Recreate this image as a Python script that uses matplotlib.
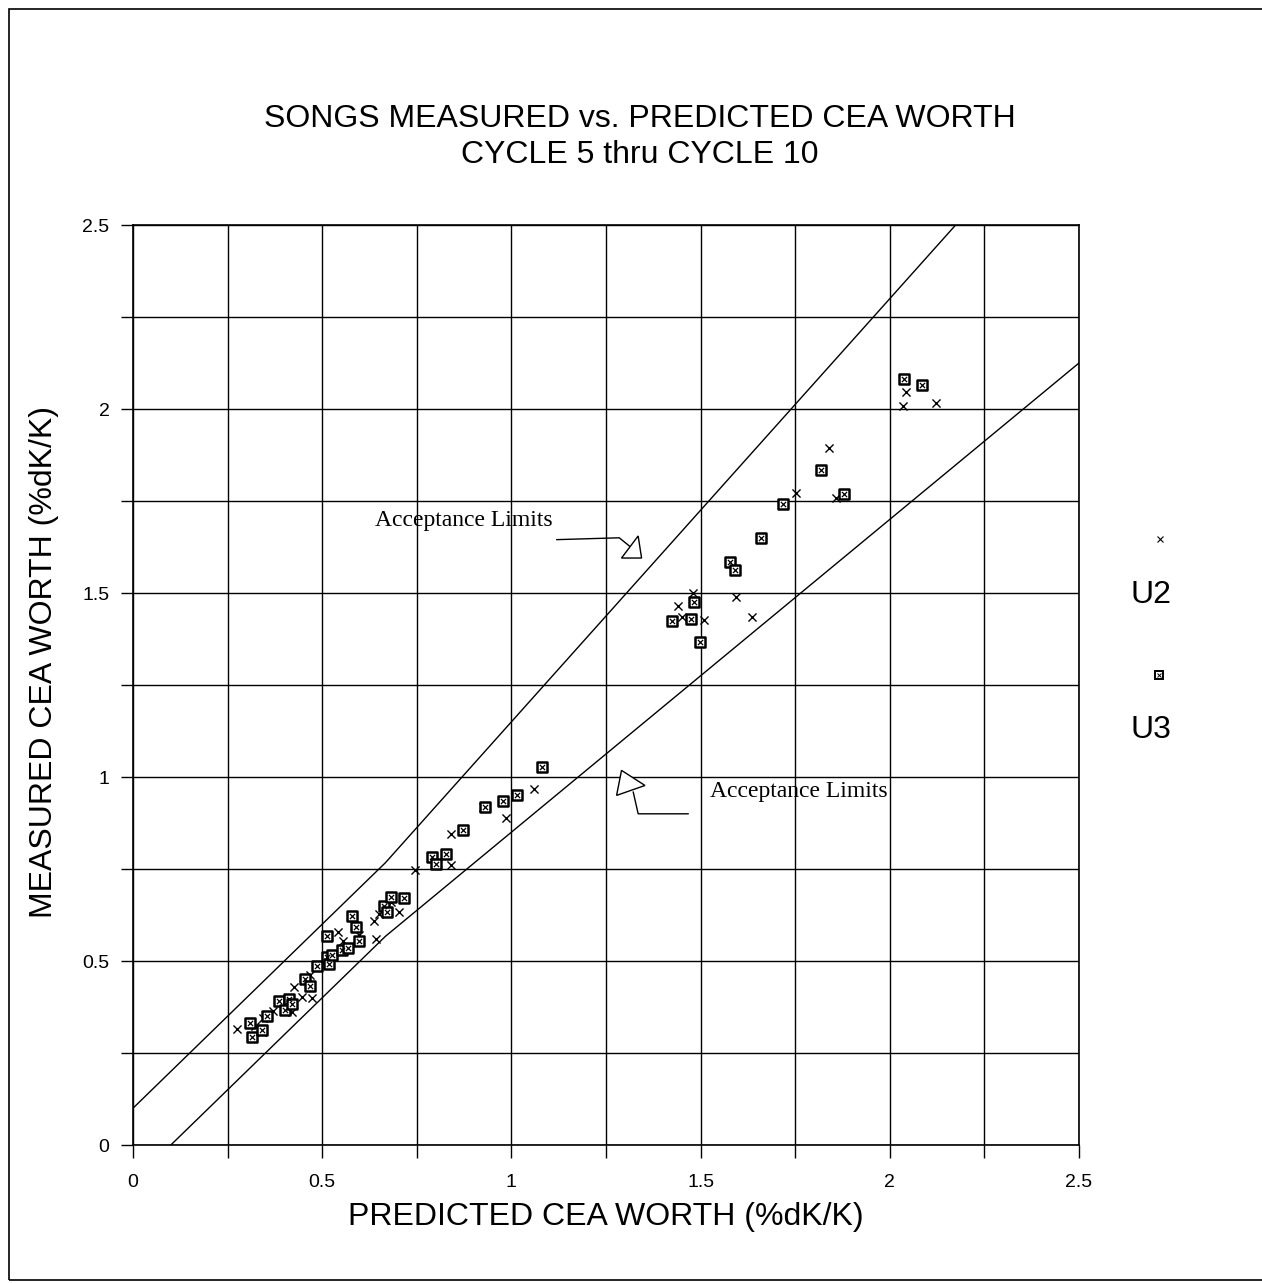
import matplotlib
matplotlib.use("Agg")
import matplotlib.pyplot as plt
from matplotlib.patches import Polygon, Rectangle
from matplotlib.lines import Line2D

plt.rcParams['font.family'] = ['Liberation Sans', 'DejaVu Sans']

# U2 data (predicted vs measured CEA worth, %dK/K)
pred_u2 = [0.276, 0.323, 0.341, 0.343, 0.371, 0.420, 0.426, 0.446, 0.468, 0.474,
           0.543, 0.555, 0.596, 0.637, 0.642, 0.649, 0.681, 0.703, 0.744, 0.840,
           0.841, 0.926, 0.985, 1.060, 1.439, 1.451, 1.479, 1.509, 1.594, 1.637,
           1.752, 1.839, 1.859, 2.035, 2.042, 2.123]
meas_u2 = [0.314, 0.323, 0.306, 0.345, 0.365, 0.362, 0.430, 0.402, 0.461, 0.400,
           0.580, 0.554, 0.570, 0.609, 0.561, 0.627, 0.661, 0.633, 0.747, 0.846,
           0.762, 0.918, 0.889, 0.968, 1.464, 1.435, 1.501, 1.427, 1.489, 1.436,
           1.771, 1.893, 1.759, 2.009, 2.047, 2.015]

# U3 data
pred_u3 = [0.308, 0.314, 0.341, 0.354, 0.385, 0.402, 0.411, 0.420, 0.455, 0.468,
           0.486, 0.512, 0.512, 0.519, 0.525, 0.552, 0.569, 0.578, 0.589, 0.598,
           0.662, 0.672, 0.682, 0.717, 0.791, 0.801, 0.827, 0.873, 0.930, 0.979,
           1.014, 1.080, 1.425, 1.474, 1.482, 1.498, 1.579, 1.590, 1.659, 1.718,
           1.818, 1.878, 2.037, 2.086]
meas_u3 = [0.332, 0.293, 0.312, 0.350, 0.391, 0.368, 0.397, 0.382, 0.452, 0.432,
           0.486, 0.568, 0.512, 0.491, 0.516, 0.530, 0.534, 0.621, 0.593, 0.554,
           0.650, 0.633, 0.674, 0.671, 0.782, 0.764, 0.791, 0.856, 0.918, 0.936,
           0.950, 1.027, 1.423, 1.429, 1.475, 1.368, 1.585, 1.563, 1.650, 1.743,
           1.834, 1.770, 2.082, 2.065]

# acceptance limit lines (vertices)
upper_x = [0.0, 0.667, 2.174]
upper_y = [0.1, 0.767, 2.5]
lower_x = [0.1, 0.667, 2.5]
lower_y = [0.0, 0.567, 2.125]

ticks = [0, 0.5, 1, 1.5, 2, 2.5]
tick_labels = ['0', '0.5', '1', '1.5', '2', '2.5']
grid_ticks = [i * 0.25 for i in range(11)]

W, H = 1262, 1283
fig = plt.figure(figsize=(W / 100, H / 100), dpi=100)
ax = fig.add_axes([133 / W, 1 - 1145 / H, 946 / W, 920 / H])

# limit lines
ax.plot(upper_x, upper_y, color='black', lw=1.0)
ax.plot(lower_x, lower_y, color='black', lw=1.0)

# data points
ax.scatter(pred_u2, meas_u2, marker='x', s=34, color='black', linewidths=1.0, zorder=4)
ax.scatter(pred_u3, meas_u3, marker='s', s=50, facecolor='white', edgecolor='black',
           linewidths=1.8, zorder=5)
ax.scatter(pred_u3, meas_u3, marker='x', s=14, color='black', linewidths=0.9, zorder=6)

ax.set_xlim(0, 2.5)
ax.set_ylim(0, 2.5)
ax.set_xticks(grid_ticks)
ax.set_yticks(grid_ticks)
ax.set_xticklabels([tick_labels[ticks.index(t)] if t in ticks else '' for t in grid_ticks])
ax.set_yticklabels([tick_labels[ticks.index(t)] if t in ticks else '' for t in grid_ticks])
ax.tick_params(axis='both', direction='out', length=9, width=1.0, labelsize=14)
ax.tick_params(axis='x', pad=12)
ax.tick_params(axis='y', pad=8)
ax.grid(True, color='black', lw=1.0)
ax.set_axisbelow(True)
for s in ax.spines.values():
    s.set_linewidth(1.2)

ax.set_xlabel('PREDICTED CEA WORTH (%dK/K)', fontsize=23)
ax.xaxis.set_label_coords(0.5, -0.062)
ax.set_ylabel('MEASURED CEA WORTH (%dK/K)', fontsize=23)
ax.yaxis.set_label_coords(-0.078, 0.525)

# acceptance limits annotations
ax.text(0.64, 1.697, 'Acceptance Limits', family=['Liberation Serif'], fontsize=17,
        ha='left', va='center')
ax.plot([1.120, 1.285, 1.315], [1.645, 1.650, 1.625], color='black', lw=1.0)
ax.add_patch(Polygon([[1.335, 1.655], [1.291, 1.595], [1.344, 1.595]], closed=True,
                     facecolor='white', edgecolor='black', lw=1.0, zorder=6))

ax.text(1.525, 0.960, 'Acceptance Limits', family=['Liberation Serif'], fontsize=17,
        ha='left', va='center', zorder=7)
ax.plot([1.467, 1.335, 1.322], [0.900, 0.900, 0.959], color='black', lw=1.0)
ax.add_patch(Polygon([[1.291, 1.018], [1.278, 0.950], [1.353, 0.977]], closed=True,
                     facecolor='white', edgecolor='black', lw=1.0, zorder=6))

# title
fig.text(640 / W, 1 - 119 / H, 'SONGS MEASURED vs. PREDICTED CEA WORTH',
         fontsize=23, ha='center', va='center')
fig.text(640 / W, 1 - 155 / H, 'CYCLE 5 thru CYCLE 10',
         fontsize=23, ha='center', va='center')

# legend on right side
fig.add_artist(Line2D([1160 / W], [1 - 539 / H], marker='x', markersize=5,
                      color='black', mew=0.8, linestyle='none'))
fig.add_artist(Line2D([1159 / W], [1 - 675 / H], marker='s', markersize=6,
                      markerfacecolor='white', markeredgecolor='black', mew=1.4,
                      linestyle='none'))
fig.add_artist(Line2D([1159 / W], [1 - 675 / H], marker='x', markersize=3,
                      color='black', mew=0.7, linestyle='none'))
fig.text(1151 / W, 1 - 595 / H, 'U2', fontsize=23, ha='center', va='center')
fig.text(1151 / W, 1 - 730 / H, 'U3', fontsize=23, ha='center', va='center')

# outer border
fig.add_artist(Rectangle((9 / W, 3 / H), 1.2, (1280 - 9) / H, transform=fig.transFigure,
                         fill=False, edgecolor='black', lw=1.2))

fig.savefig('out.png', dpi=100)
